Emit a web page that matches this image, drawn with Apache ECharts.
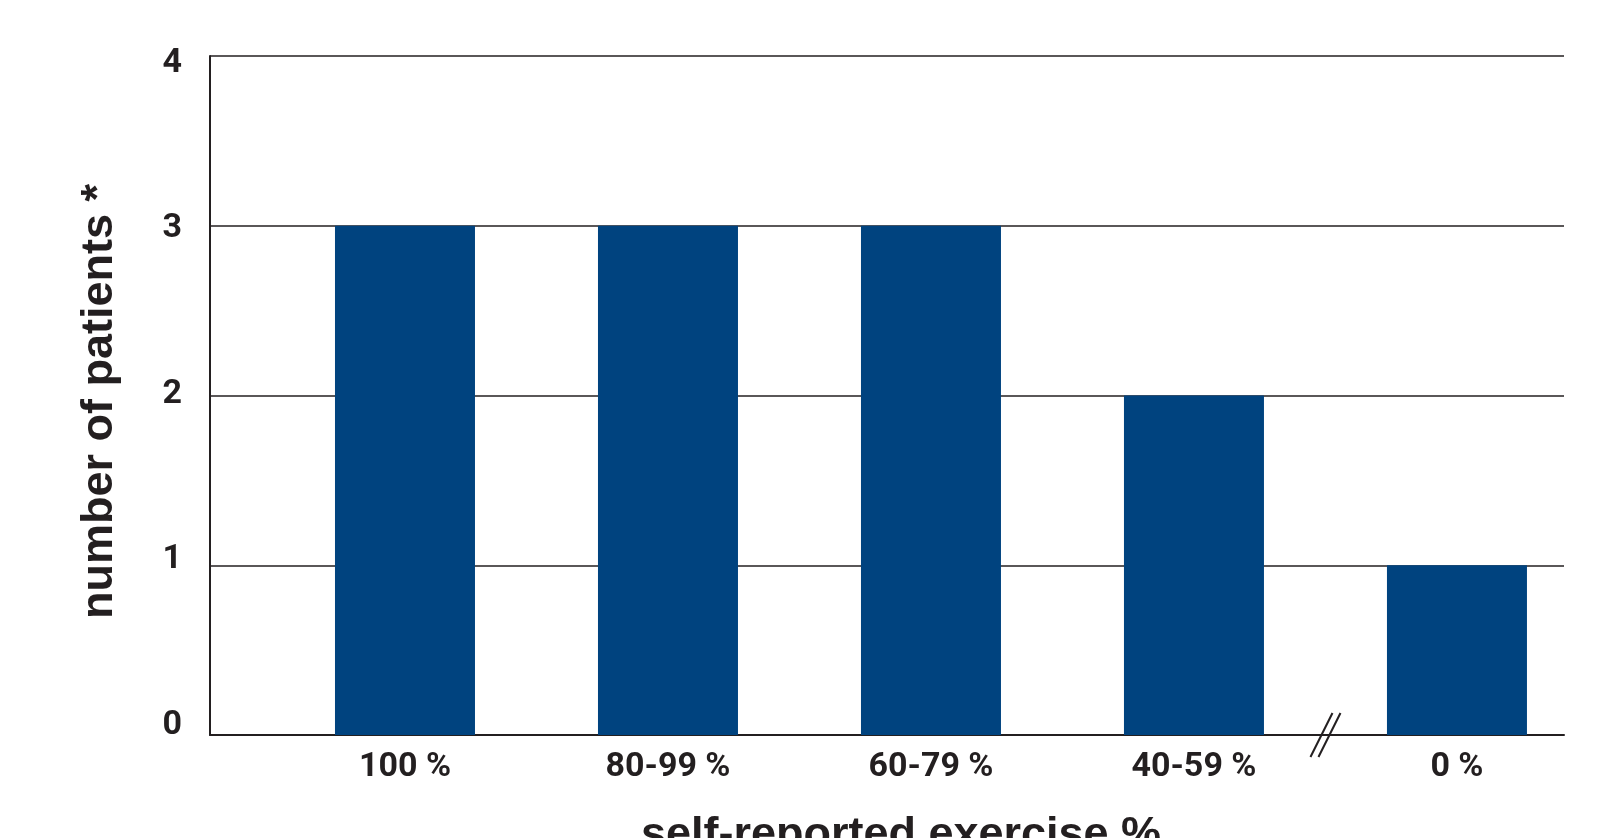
<!DOCTYPE html>
<html>
<head>
<meta charset="utf-8">
<script src="https://cdn.jsdelivr.net/npm/echarts@6/dist/echarts.min.js"></script>
<style>
  html, body { margin: 0; padding: 0; background: #fff; }
  #chart { width: 1617px; height: 838px; }
</style>
</head>
<body>
<div id="chart"></div>
<script>
// categories and values
var categories = ['100 %', '80-99 %', '60-79 %', '40-59 %', '0 %'];
var patients = [3, 3, 3, 2, 1];
var yTicks = [0, 1, 2, 3, 4];

var ink = '#231f20';
var barColor = '#00437f';

var myChart = echarts.init(document.getElementById('chart'));

// bars sit at x = 1..5 on a value axis so the plot can be offset like the original
var barData = patients.map(function (v, i) { return [i + 1, v]; });

var option = {
    backgroundColor: '#fff',
    animation: false,
    grid: { left: 210, right: 53, top: 56, bottom: 103, containLabel: false, outerBoundsMode: 'none' },
    xAxis: {
        type: 'value',
        min: 0.2586,
        max: 5.407,
        axisLine: { show: true, onZero: false, lineStyle: { color: ink, width: 2 } },
        axisTick: { show: false },
        splitLine: { show: false },
        axisLabel: {
            customValues: [1, 2, 3, 4, 5],
            formatter: function (v) { return categories[Math.round(v) - 1]; },
            color: ink,
            fontFamily: 'Roboto',
            fontWeight: 'bold',
            fontSize: 34,
            margin: 15
        },
        name: 'self-reported exercise %',
        nameLocation: 'middle',
        nameGap: 78,
        nameTextStyle: {
            color: ink,
            fontFamily: 'Liberation Sans',
            fontWeight: 'bold',
            fontSize: 45,
            padding: [0, 0, 0, 28]
        }
    },
    yAxis: [
        {
            type: 'value',
            min: 0,
            max: 4,
            interval: 1,
            axisLine: { show: true, lineStyle: { color: ink, width: 2 } },
            axisTick: { show: false },
            axisLabel: { show: false },
            splitLine: { show: true, lineStyle: { color: ink, width: 1.5 } },
            name: 'number of patients *',
            nameLocation: 'middle',
            nameRotate: 90,
            nameGap: 88,
            nameTextStyle: {
                color: ink,
                fontFamily: 'Liberation Sans',
                fontWeight: 'bold',
                fontSize: 45,
                padding: [0, 12, 0, 0]
            }
        },
        {
            // labels only; the original's tick labels drift slightly from the gridlines
            type: 'value',
            position: 'left',
            min: -0.0604,
            max: 4.044,
            axisLine: { show: false },
            axisTick: { show: false },
            splitLine: { show: false },
            axisLabel: {
                customValues: yTicks,
                color: ink,
                fontFamily: 'Roboto',
                fontWeight: 'bold',
                fontSize: 34,
                margin: 28
            }
        }
    ],
    series: [
        {
            type: 'bar',
            data: barData,
            barWidth: 140,
            itemStyle: { color: barColor },
            z: 3
        }
    ]
};

myChart.setOption(option);

// axis break mark "//" between the last two groups
var c = myChart.convertToPixel({ gridIndex: 0 }, [4.5, 0]);
var brk = [];
[-4, 4].forEach(function (dx) {
    brk.push({
        type: 'line',
        shape: { x1: c[0] + dx - 11, y1: c[1] + 22, x2: c[0] + dx + 11, y2: c[1] - 22 },
        style: { stroke: ink, lineWidth: 2 },
        z: 10
    });
});
myChart.setOption({ graphic: brk });

window.onresize = function () { myChart.resize(); };
</script>
</body>
</html>
